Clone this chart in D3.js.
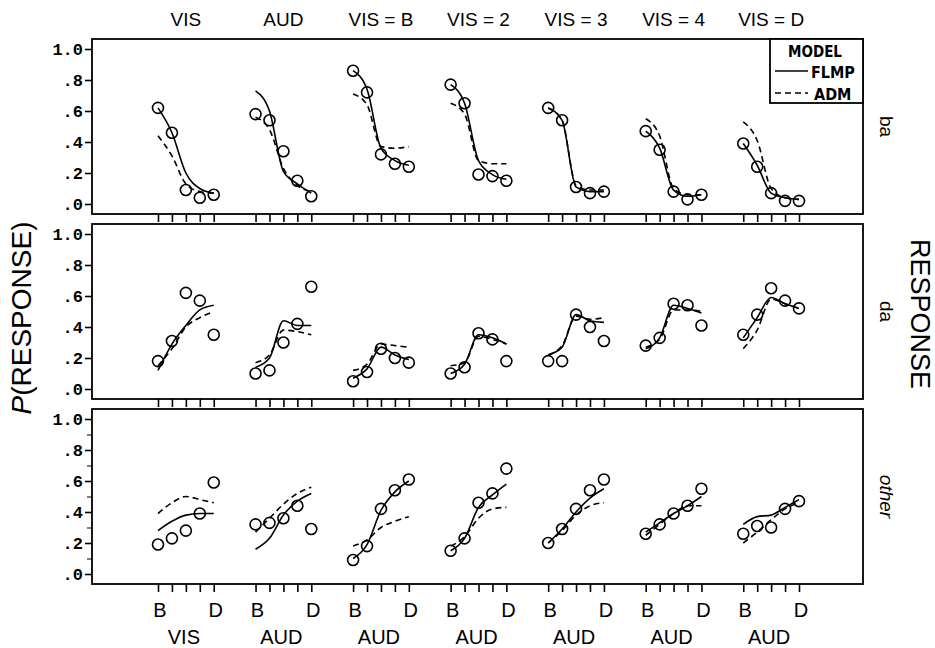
<!DOCTYPE html>
<html>
<head>
<meta charset="utf-8">
<script src="https://cdn.jsdelivr.net/npm/d3@7"></script>
<style>
  body { margin: 0; background: #fff; }
  svg text { fill: #000; }
</style>
</head>
<body>
<div class="chart"></div>
<script>
// groups of conditions along the x axis
const topLabels = ["VIS", "AUD", "VIS = B", "VIS = 2", "VIS = 3", "VIS = 4", "VIS = D"];
const bottomLabels = ["VIS", "AUD", "AUD", "AUD", "AUD", "AUD", "AUD"];
const levels = ["B", "2", "3", "4", "D"];
const responses = ["ba", "da", "other"];
const yTicks = [0, 0.2, 0.4, 0.6, 0.8, 1.0];
const yTickLabels = [".0", ".2", ".4", ".6", ".8", "1.0"];

// observed proportions, one row per group
const obsBa = [
  [0.62, 0.46, 0.09, 0.04, 0.06],
  [0.58, 0.54, 0.34, 0.15, 0.05],
  [0.86, 0.72, 0.32, 0.26, 0.24],
  [0.77, 0.65, 0.19, 0.18, 0.15],
  [0.62, 0.54, 0.11, 0.07, 0.08],
  [0.47, 0.35, 0.08, 0.03, 0.06],
  [0.39, 0.24, 0.07, 0.02, 0.02]
];
const flmpBa = [
  [0.62, 0.46, 0.20, 0.10, 0.07],
  [0.73, 0.60, 0.21, 0.13, 0.07],
  [0.86, 0.74, 0.36, 0.28, 0.25],
  [0.77, 0.65, 0.28, 0.19, 0.16],
  [0.62, 0.54, 0.11, 0.08, 0.08],
  [0.47, 0.36, 0.09, 0.05, 0.06],
  [0.39, 0.25, 0.07, 0.04, 0.03]
];
const admBa = [
  [0.44, 0.31, 0.13, 0.08, 0.07],
  [0.56, 0.48, 0.23, 0.12, 0.08],
  [0.71, 0.64, 0.37, 0.36, 0.37],
  [0.65, 0.58, 0.28, 0.26, 0.26],
  [0.62, 0.54, 0.12, 0.09, 0.09],
  [0.55, 0.44, 0.10, 0.06, 0.06],
  [0.53, 0.41, 0.10, 0.04, 0.03]
];

const obsDa = [
  [0.18, 0.31, 0.62, 0.57, 0.35],
  [0.10, 0.12, 0.30, 0.42, 0.66],
  [0.05, 0.11, 0.26, 0.20, 0.17],
  [0.10, 0.14, 0.36, 0.32, 0.18],
  [0.18, 0.18, 0.48, 0.40, 0.31],
  [0.28, 0.33, 0.55, 0.54, 0.41],
  [0.35, 0.48, 0.65, 0.57, 0.52]
];
const flmpDa = [
  [0.12, 0.29, 0.41, 0.51, 0.54],
  [0.14, 0.20, 0.44, 0.41, 0.41],
  [0.07, 0.13, 0.27, 0.22, 0.19],
  [0.10, 0.16, 0.35, 0.33, 0.29],
  [0.22, 0.27, 0.48, 0.44, 0.43],
  [0.26, 0.33, 0.54, 0.52, 0.49],
  [0.33, 0.46, 0.59, 0.55, 0.52]
];
const admDa = [
  [0.15, 0.26, 0.40, 0.46, 0.50],
  [0.17, 0.22, 0.38, 0.37, 0.35],
  [0.12, 0.16, 0.29, 0.28, 0.27],
  [0.15, 0.17, 0.34, 0.32, 0.29],
  [0.22, 0.28, 0.47, 0.45, 0.46],
  [0.27, 0.32, 0.51, 0.51, 0.50],
  [0.26, 0.38, 0.58, 0.55, 0.52]
];

const obsOther = [
  [0.19, 0.23, 0.28, 0.39, 0.59],
  [0.32, 0.33, 0.36, 0.44, 0.29],
  [0.09, 0.18, 0.42, 0.54, 0.61],
  [0.15, 0.23, 0.46, 0.52, 0.68],
  [0.20, 0.29, 0.42, 0.54, 0.61],
  [0.26, 0.32, 0.39, 0.44, 0.55],
  [0.26, 0.31, 0.30, 0.42, 0.47]
];
const flmpOther = [
  [0.28, 0.34, 0.38, 0.39, 0.39],
  [0.16, 0.23, 0.38, 0.47, 0.52],
  [0.10, 0.19, 0.41, 0.53, 0.60],
  [0.15, 0.23, 0.43, 0.51, 0.58],
  [0.20, 0.29, 0.40, 0.49, 0.55],
  [0.27, 0.33, 0.39, 0.44, 0.50],
  [0.32, 0.37, 0.38, 0.43, 0.48]
];
const admOther = [
  [0.39, 0.46, 0.50, 0.48, 0.46],
  [0.27, 0.36, 0.45, 0.52, 0.56],
  [0.18, 0.22, 0.30, 0.34, 0.37],
  [0.18, 0.24, 0.36, 0.42, 0.43],
  [0.20, 0.28, 0.38, 0.44, 0.46],
  [0.25, 0.32, 0.39, 0.44, 0.44],
  [0.20, 0.27, 0.35, 0.42, 0.46]
];

const panels = [
  { name: responses[0], obs: obsBa, flmp: flmpBa, adm: admBa, italic: false },
  { name: responses[1], obs: obsDa, flmp: flmpDa, adm: admDa, italic: false },
  { name: responses[2], obs: obsOther, flmp: flmpOther, adm: admOther, italic: true }
];

const width = 935, height = 648;
const left = 92, right = 863;
const panelTop = 39, panelH = 175, panelGap = 10;
const sans = "'Liberation Sans', Arial, sans-serif";
const mono = "'Liberation Mono', 'DejaVu Sans Mono', monospace";

const svg = d3.select(".chart")
  .append("svg")
  .attr("width", width)
  .attr("height", height);

// position index: group * 7 + level
const pos = (g, i) => g * 7 + i;
const x = d3.scaleLinear().domain([0, 46]).range([158, 799]);

panels.forEach((p, k) => {
  const top = panelTop + k * (panelH + panelGap);
  const y = d3.scaleLinear().domain([0, 1]).range([top + panelH - 10, top + 10]);
  const g = svg.append("g");

  g.append("rect")
    .attr("x", left).attr("y", top)
    .attr("width", right - left).attr("height", panelH)
    .attr("fill", "none").attr("stroke", "#000").attr("stroke-width", 1.8);

  // y axis, ticks outside the box
  const yAxis = d3.axisLeft(y)
    .tickValues(yTicks)
    .tickSize(7)
    .tickFormat((d, i) => yTickLabels[i]);
  const ya = g.append("g")
    .attr("transform", `translate(${left},0)`)
    .call(yAxis);
  ya.select(".domain").remove();
  ya.selectAll("line").attr("stroke-width", 1.6);
  ya.selectAll("text")
    .attr("font-family", mono).attr("font-weight", "bold")
    .attr("font-size", 17).attr("x", -9);

  if (k === 2) {
    const minor = g.append("g")
      .attr("transform", `translate(${left},0)`)
      .call(d3.axisLeft(y).tickValues([0.1, 0.3, 0.5, 0.7, 0.9]).tickSize(5).tickFormat(""));
    minor.select(".domain").remove();
  }

  // x ticks below each panel
  const xVals = [];
  topLabels.forEach((t, gi) => levels.forEach((l, li) => xVals.push(pos(gi, li))));
  const xa = g.append("g")
    .attr("transform", `translate(0,${top + panelH})`)
    .call(d3.axisBottom(x).tickValues(xVals).tickSize(8).tickFormat(""));
  xa.select(".domain").remove();
  xa.selectAll("line").attr("stroke-width", 1.6);

  // model lines and observed points
  p.obs.forEach((row, gi) => {
    const line = d3.line()
      .x((d, i) => x(pos(gi, i)))
      .y(d => y(d))
      .curve(d3.curveMonotoneX);

    g.append("path")
      .attr("d", line(p.adm[gi]))
      .attr("fill", "none").attr("stroke", "#000")
      .attr("stroke-width", 1.6).attr("stroke-dasharray", "6,4");

    g.append("path")
      .attr("d", line(p.flmp[gi]))
      .attr("fill", "none").attr("stroke", "#000")
      .attr("stroke-width", 1.6);

    g.selectAll(null)
      .data(row)
      .enter()
      .append("circle")
      .attr("cx", (d, i) => x(pos(gi, i)))
      .attr("cy", d => y(d))
      .attr("r", 5.5)
      .attr("fill", "none").attr("stroke", "#000").attr("stroke-width", 1.6);
  });

  // response label on the right
  const cy = top + panelH / 2;
  g.append("text")
    .attr("transform", `translate(880,${cy}) rotate(90)`)
    .attr("text-anchor", "middle")
    .attr("font-family", sans).attr("font-size", 19)
    .attr("font-style", p.italic ? "italic" : "normal")
    .text(p.name);
});

// group labels on top
svg.selectAll(".toplab")
  .data(topLabels)
  .enter()
  .append("text")
  .attr("x", (d, i) => x(pos(i, 2)))
  .attr("y", 26)
  .attr("text-anchor", "middle")
  .attr("font-family", sans).attr("font-size", 19)
  .text(d => d);

// B / D level labels and bottom group labels
const bottomY = panelTop + 3 * panelH + 2 * panelGap;
topLabels.forEach((t, gi) => {
  [0, 4].forEach(li => {
    svg.append("text")
      .attr("x", x(pos(gi, li)) + 2)
      .attr("y", bottomY + 33)
      .attr("text-anchor", "middle")
      .attr("font-family", sans).attr("font-size", 20)
      .text(levels[li]);
  });
});
svg.selectAll(".botlab")
  .data(bottomLabels)
  .enter()
  .append("text")
  .attr("x", (d, i) => x(pos(i, 2)) - 2)
  .attr("y", bottomY + 60)
  .attr("text-anchor", "middle")
  .attr("font-family", sans).attr("font-size", 20)
  .text(d => d);

// axis titles
const yt = svg.append("text")
  .attr("transform", "translate(31,318) rotate(-90)")
  .attr("text-anchor", "middle")
  .attr("font-family", sans).attr("font-size", 28);
yt.append("tspan").attr("font-style", "italic").text("P");
yt.append("tspan").text("(RESPONSE)");

svg.append("text")
  .attr("transform", "translate(911,314) rotate(90)")
  .attr("text-anchor", "middle")
  .attr("font-family", sans).attr("font-size", 27)
  .text("RESPONSE");

// legend box
const narrow = "'Liberation Sans Narrow', 'DejaVu Sans Condensed', sans-serif";
const lg = svg.append("g");
lg.append("rect")
  .attr("x", 770).attr("y", 39).attr("width", 93).attr("height", 64)
  .attr("fill", "#fff").attr("stroke", "#000").attr("stroke-width", 1.8);
lg.append("text")
  .attr("x", 815).attr("y", 57)
  .attr("text-anchor", "middle")
  .attr("font-family", narrow).attr("font-weight", "bold").attr("font-size", 15)
  .text("MODEL");
lg.append("line")
  .attr("x1", 775).attr("x2", 808).attr("y1", 71).attr("y2", 71)
  .attr("stroke", "#000").attr("stroke-width", 1.6);
lg.append("text")
  .attr("x", 811).attr("y", 78)
  .attr("font-family", narrow).attr("font-weight", "bold").attr("font-size", 16)
  .text("FLMP");
lg.append("line")
  .attr("x1", 775).attr("x2", 808).attr("y1", 93).attr("y2", 93)
  .attr("stroke", "#000").attr("stroke-width", 1.6).attr("stroke-dasharray", "6,4");
lg.append("text")
  .attr("x", 814).attr("y", 100)
  .attr("font-family", narrow).attr("font-weight", "bold").attr("font-size", 16)
  .text("ADM");
</script>
</body>
</html>
